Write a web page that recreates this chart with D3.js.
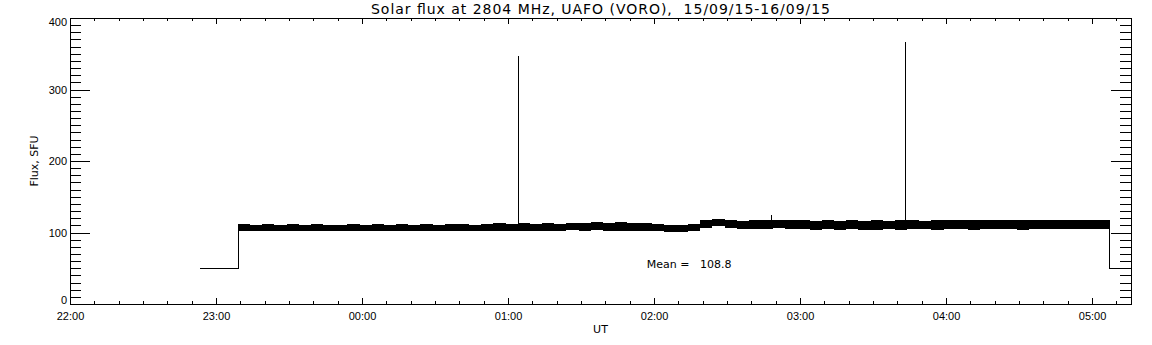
<!DOCTYPE html>
<html>
<head>
<meta charset="utf-8">
<script src="https://d3js.org/d3.v7.min.js"></script>
<style>
  body { margin: 0; background: #fff; }
  svg { display: block; font-family: "DejaVu Sans", sans-serif; }
  .axis path, .axis line { stroke: #000; shape-rendering: crispEdges; }
  .axis text { font-size: 11px; fill: #000; }
</style>
</head>
<body>
<svg width="1152" height="345"></svg>
<script>

// time window of the plot (UT), first date 15/09/15
var startTime = "22:00",
    endTime = "05:16";

// level before/after the observation (instrument off)
var leadInTimes = ["22:53", "23:09", "23:09"],
    leadInValues = [50, 50, 110];
var leadOutTimes = ["05:07", "05:07", "05:16"],
    leadOutValues = [112, 50, 50];

// noisy flux band, one value every 5 minutes from 23:09 on
var bandStart = "23:09";
var bandHigh = [
  112, 111, 112, 110, 112, 111, 112, 111, 110, 112,
  111, 112, 111, 112, 110, 112, 111, 112, 112, 111, 112, 113,
  112, 113, 112, 113, 112, 113, 113, 114, 113, 114, 113, 113,
  112, 111, 111, 112, 117, 119, 117, 116, 117, 117, 118, 117,
  117, 116, 117, 116, 117, 116, 117, 116, 117, 117, 116, 117,
  117, 118, 117, 117, 118, 117, 118, 117, 118, 117, 118, 118,
  118, 117, 118
];
var bandLow = [
  103, 104, 103, 104, 103, 104, 103, 103, 104, 103,
  104, 103, 104, 103, 104, 103, 104, 103, 104, 104, 103, 104,
  104, 104, 103, 104, 104, 105, 104, 105, 104, 104, 103, 103,
  103, 102, 102, 103, 108, 111, 108, 106, 106, 106, 107, 106,
  106, 105, 106, 105, 106, 105, 105, 106, 105, 106, 106, 105,
  106, 106, 105, 106, 106, 106, 105, 106, 106, 106, 106, 106,
  106, 106, 105
];

// short bursts
var spikeTimes = ["01:04", "02:48", "03:43"],
    spikeValues = [347, 125, 366];

var yTicks = [0, 100, 200, 300, 400];
var meanValue = 108.8;

var toDate = function(s) {
  var p = s.split(":");
  var h = +p[0], m = +p[1];
  // evening hours belong to the first day
  return h >= 12 ? new Date(Date.UTC(2015, 8, 15, h, m)) : new Date(Date.UTC(2015, 8, 16, h, m));
};

var svg = d3.select("svg"),
    width = +svg.attr("width"),
    height = +svg.attr("height");

var plotLeft = 70, plotRight = 1131, plotTop = 18, plotBottom = 304;

var x = d3.scaleUtc()
    .domain([toDate(startTime), toDate(endTime)])
    .range([plotLeft, plotRight]);

var y = d3.scaleLinear()
    .domain([0, 400])
    .range([plotBottom, plotTop]);

var bandTimes = bandHigh.map(function(d, i) {
  return d3.utcMinute.offset(toDate(bandStart), i * 5);
});

// the band only exists while the receiver was on
var onX0 = Math.round(x(toDate(leadInTimes[1]))),
    onX1 = Math.round(x(toDate(leadOutTimes[0])));

svg.append("defs").append("clipPath")
    .attr("id", "on")
    .append("rect")
      .attr("x", onX0)
      .attr("y", plotTop)
      .attr("width", onX1 - onX0 + 1)
      .attr("height", plotBottom - plotTop);

// ---- data ----
var g = svg.append("g").attr("class", "data");

var area = d3.area()
    .curve(d3.curveStepAfter)
    .x(function(d, i) { return x(bandTimes[i]); })
    .y0(function(d, i) { return Math.round(y(bandLow[i])) + 1; })
    .y1(function(d, i) { return Math.round(y(bandHigh[i])); });

g.append("path")
    .attr("clip-path", "url(#on)")
    .attr("d", area(bandHigh))
    .attr("fill", "#000")
    .attr("shape-rendering", "crispEdges");

var stepLine = d3.line()
    .x(function(d) { return Math.round(x(toDate(d[0]))) + 0.5; })
    .y(function(d) { return Math.round(y(d[1])) + 0.5; });

g.append("path")
    .attr("d", stepLine(d3.zip(leadInTimes, leadInValues)))
    .attr("fill", "none")
    .attr("stroke", "#000")
    .attr("shape-rendering", "crispEdges");

g.append("path")
    .attr("d", stepLine(d3.zip(leadOutTimes, leadOutValues)))
    .attr("fill", "none")
    .attr("stroke", "#000")
    .attr("shape-rendering", "crispEdges");

g.selectAll("line.spike")
    .data(spikeTimes)
    .enter().append("line")
      .attr("class", "spike")
      .attr("x1", function(d) { return Math.round(x(toDate(d))) + 0.5; })
      .attr("x2", function(d) { return Math.round(x(toDate(d))) + 0.5; })
      .attr("y1", function() { return y(110); })
      .attr("y2", function(d, i) { return y(spikeValues[i]); })
      .attr("stroke", "#000")
      .attr("shape-rendering", "crispEdges");

// ---- axes ----
var hourFmt = d3.utcFormat("%H:%M");

svg.append("g")
    .attr("class", "axis")
    .attr("transform", "translate(0," + plotBottom + ")")
    .call(d3.axisBottom(x).ticks(d3.utcMinute.every(10)).tickSize(-3).tickFormat(""));

svg.append("g")
    .attr("class", "axis")
    .attr("transform", "translate(0," + plotBottom + ")")
    .call(d3.axisBottom(x).ticks(d3.utcHour.every(1)).tickSizeInner(-6).tickSizeOuter(0)
        .tickPadding(8).tickFormat(hourFmt));

svg.append("g")
    .attr("class", "axis")
    .attr("transform", "translate(0," + plotTop + ")")
    .call(d3.axisTop(x).ticks(d3.utcMinute.every(10)).tickSize(-3).tickFormat(""));

svg.append("g")
    .attr("class", "axis")
    .attr("transform", "translate(0," + plotTop + ")")
    .call(d3.axisTop(x).ticks(d3.utcHour.every(1)).tickSizeInner(-6).tickSizeOuter(0).tickFormat(""));

svg.append("g")
    .attr("class", "axis")
    .attr("transform", "translate(" + plotLeft + ",0)")
    .call(d3.axisLeft(y).ticks(40).tickSize(-11).tickFormat(""));

var yAxis = svg.append("g")
    .attr("class", "axis")
    .attr("transform", "translate(" + plotLeft + ",0)")
    .call(d3.axisLeft(y).tickValues(yTicks).tickSizeInner(-20).tickSizeOuter(0).tickPadding(3));

// the end labels sit a little inside the frame
yAxis.selectAll(".tick text")
    .attr("dy", function(d) { return d == 400 ? "0.65em" : d == 0 ? "-0.05em" : "0.32em"; });

svg.append("g")
    .attr("class", "axis")
    .attr("transform", "translate(" + plotRight + ",0)")
    .call(d3.axisRight(y).ticks(40).tickSize(-11).tickFormat(""));

svg.append("g")
    .attr("class", "axis")
    .attr("transform", "translate(" + plotRight + ",0)")
    .call(d3.axisRight(y).tickValues(yTicks).tickSizeInner(-20).tickSizeOuter(0).tickFormat(""));

// ---- texts ----
svg.append("text")
    .attr("x", (plotLeft + plotRight) / 2)
    .attr("y", 14)
    .attr("text-anchor", "middle")
    .attr("font-size", 14)
    .attr("textLength", 459)
    .attr("lengthAdjust", "spacing")
    .style("white-space", "pre")
    .text("Solar flux at 2804 MHz, UAFO (VORO),  15/09/15-16/09/15");

svg.append("text")
    .attr("x", (plotLeft + plotRight) / 2)
    .attr("y", 333)
    .attr("text-anchor", "middle")
    .attr("font-size", 11)
    .text("UT");

svg.append("text")
    .attr("transform", "translate(38," + (plotTop + plotBottom) / 2 + ") rotate(-90)")
    .attr("text-anchor", "middle")
    .attr("font-size", 11)
    .text("Flux, SFU");

svg.append("text")
    .attr("x", x(toDate("01:57")))
    .attr("y", y(50))
    .attr("font-size", 11)
    .style("white-space", "pre")
    .text("Mean =   " + meanValue.toFixed(1));

</script>
</body>
</html>
